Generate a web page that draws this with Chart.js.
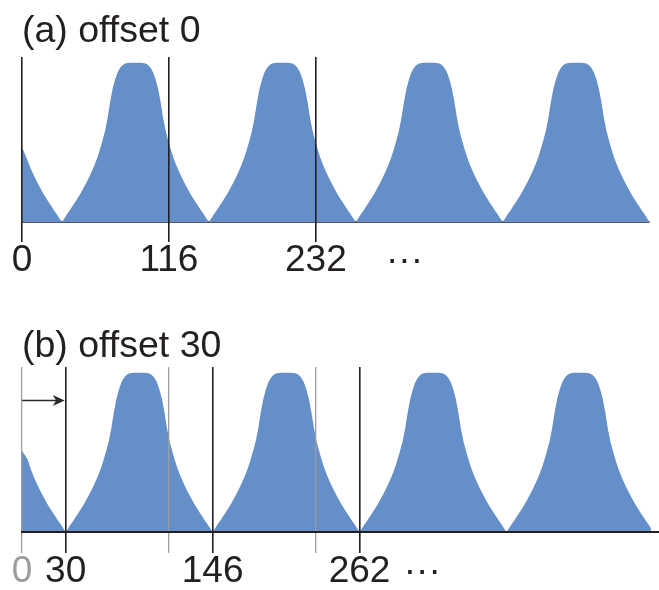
<!DOCTYPE html>
<html><head><meta charset="utf-8">
<script src="https://cdn.jsdelivr.net/npm/chart.js@4"></script>
<style>
html,body{margin:0;padding:0;background:#fff;}
canvas{display:block;}
</style></head><body>
<canvas id="ca" width="659" height="295"></canvas>
<canvas id="cb" width="659" height="295"></canvas>
<script>
// ---- data ----
// one bell profile: height (% of peak) vs distance from a valley (x units)
const profileDist   = [0, 2, 4, 6, 8, 10, 12, 14, 16, 18, 20, 22, 24, 26, 28, 30, 32, 34, 36, 38, 40, 42, 44, 46, 48, 50, 52, 54, 56, 58];
const profileHeight = [0, 2.4, 4.8, 7.1, 9.5, 12, 14.4, 17, 19.8, 22.7, 25.8, 29, 32.5, 36.3, 40.5, 45.5, 51, 57, 65, 75, 83.5, 89.5, 94, 96.9, 98.6, 99.5, 99.9, 100, 100, 100];

// panel (a): offset 0
const titleA = '(a) offset 0';
const valleysA = [31.5, 147.5, 263.5, 379.5, 495.5];
const startA = [0, 47];
const endA = [495.5, 0];
const xMaxA = 495.5;
const tickValuesA = [0, 116, 232, 302];
const tickLabelsA = ['0', '116', '232', '\u00B7\u00B7\u00B7'];
const tickKindA = ['black', 'black', 'black', 'none'];

// panel (b): offset 30
const titleB = '(b) offset 30';
const valleysB = [34.5, 150.5, 266.5, 382.5, 498.5];
const startB = [0, 51];
const endB = [496.5, 1.5];
const xMaxB = 502.9;
const tickValuesB = [0, 34.5, 116, 150.5, 232, 266.5, 316];
const tickLabelsB = ['0', '30', '', '146', '', '262', '\u00B7\u00B7\u00B7'];
const tickKindB = ['gray', 'black', 'gray', 'black', 'gray', 'black', 'none'];
const arrowB = {from: 0, to: 34.5, level: 83};

// ---- styles ----
const FILL = '#648FC8';
const BLACK = '#231F20';
const GRAY = '#9D9D9D';
const FONT = 'Liberation Sans, Arial, Helvetica, sans-serif';

function buildSeries(valleys, start, end) {
  const pts = [{x: start[0], y: start[1]}];
  const v0 = valleys[0];
  for (let i = profileDist.length - 1; i >= 0; i--) {
    const x = v0 - profileDist[i];
    if (x > start[0] + 3) pts.push({x, y: profileHeight[i]});
  }
  for (let k = 0; k < valleys.length - 1; k++) {
    const a = valleys[k], b = valleys[k + 1];
    for (let i = 1; i < profileDist.length; i++) {
      const x = a + profileDist[i];
      if (x <= end[0]) pts.push({x, y: profileHeight[i]});
    }
    for (let i = profileDist.length - 2; i >= 0; i--) {
      const x = b - profileDist[i];
      if (x <= end[0] - 1 || x === end[0]) pts.push({x, y: profileHeight[i]});
    }
  }
  if (pts[pts.length - 1].x < end[0]) pts.push({x: end[0], y: end[1]});
  return pts;
}

const colorOf = k => k === 'gray' ? GRAY : (k === 'black' ? BLACK : 'rgba(0,0,0,0)');

// baseline drawn under the fill (panel a)
const baselinePlugin = {
  id: 'baseline',
  beforeDatasetsDraw(chart, args, opts) {
    if (!opts || !opts.show) return;
    const xs = chart.scales.x, ys = chart.scales.y, ctx = chart.ctx;
    const y = ys.getPixelForValue(0);
    ctx.save();
    ctx.strokeStyle = BLACK;
    ctx.lineWidth = opts.width;
    ctx.beginPath();
    ctx.moveTo(xs.getPixelForValue(xs.min), y);
    ctx.lineTo(xs.getPixelForValue(xs.max), y);
    ctx.stroke();
    ctx.restore();
  }
};

const arrowPlugin = {
  id: 'arrow',
  afterDatasetsDraw(chart, args, opts) {
    if (!opts || !opts.show) return;
    const xs = chart.scales.x, ys = chart.scales.y, ctx = chart.ctx;
    const x0 = xs.getPixelForValue(opts.from);
    const x1 = xs.getPixelForValue(opts.to) - 1;
    const y = Math.round(ys.getPixelForValue(opts.level)) + 0.5;
    ctx.save();
    ctx.strokeStyle = '#2b2b2b';
    ctx.fillStyle = '#2b2b2b';
    ctx.lineWidth = 1.6;
    ctx.beginPath();
    ctx.moveTo(x0, y);
    ctx.lineTo(x1 - 6, y);
    ctx.stroke();
    ctx.beginPath();
    ctx.moveTo(x1, y);
    ctx.lineTo(x1 - 12, y - 5.5);
    ctx.lineTo(x1 - 8.5, y);
    ctx.lineTo(x1 - 12, y + 5.5);
    ctx.closePath();
    ctx.fill();
    ctx.restore();
  }
};

function makeChart(id, p) {
  return new Chart(document.getElementById(id), {
    type: 'line',
    data: {
      datasets: [{
        data: buildSeries(p.valleys, p.start, p.end),
        fill: 'origin',
        backgroundColor: FILL,
        borderWidth: 0,
        borderColor: FILL,
        pointRadius: 0,
        tension: 0
      }]
    },
    options: {
      responsive: false,
      animation: false,
      devicePixelRatio: 1,
      layout: {padding: {left: 22, right: p.padRight, top: 0, bottom: 0}},
      plugins: {
        legend: {display: false},
        tooltip: {enabled: false},
        title: {
          display: true, text: p.title, align: 'start', color: BLACK,
          font: {family: FONT, size: 37.5, weight: 'normal', lineHeight: 1},
          padding: {top: p.titleTop, bottom: p.titleBottom}
        },
        arrow: p.arrow ? Object.assign({show: true}, p.arrow) : {show: false},
        baseline: {show: p.underBaseline, width: 1.5}
      },
      scales: {
        x: {
          type: 'linear', min: 0, max: p.xMax,
          afterBuildTicks: s => { s.ticks = p.tickValues.map(v => ({value: v})); },
          afterFit: s => { s.height = p.axisHeight; },
          ticks: {
            autoSkip: false, maxRotation: 0, minRotation: 0, padding: 0,
            font: {family: FONT, size: 37, lineHeight: 1},
            color: c => p.tickKind[c.index] === 'gray' ? GRAY : BLACK,
            callback: (v, i) => p.tickLabels[i]
          },
          grid: {
            z: 1, drawOnChartArea: true, drawTicks: true, tickLength: p.tickLength,
            color: c => colorOf(p.tickKind[c.index]),
            lineWidth: c => p.tickKind[c.index] === 'gray' ? 1.3 : 1.6
          },
          border: {display: !p.underBaseline, color: BLACK, width: p.borderWidth, z: 2}
        },
        y: {display: false, min: 0, max: 103.6}
      }
    },
    plugins: [arrowPlugin, baselinePlugin]
  });
}

makeChart('ca', {
  title: titleA, valleys: valleysA, start: startA, end: endA, xMax: xMaxA,
  tickValues: tickValuesA, tickLabels: tickLabelsA, tickKind: tickKindA,
  padRight: 9.4, titleTop: 13, titleBottom: 6.5, axisHeight: 73, tickLength: 20,
  borderWidth: 1.5, underBaseline: true
});
makeChart('cb', {
  title: titleB, valleys: valleysB, start: startB, end: endB, xMax: xMaxB,
  tickValues: tickValuesB, tickLabels: tickLabelsB, tickKind: tickKindB,
  padRight: 0, titleTop: 33, titleBottom: 1.5, axisHeight: 58, tickLength: 21,
  borderWidth: 2, underBaseline: false, arrow: arrowB
});
</script>
</body></html>
